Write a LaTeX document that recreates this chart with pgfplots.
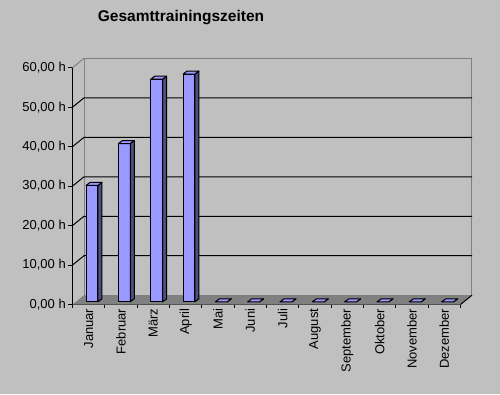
\documentclass[border=0pt]{standalone}
\usepackage{pgfplots}
\usepackage{pgfplotstable}
\pgfplotsset{compat=1.18}
\usepackage{fontspec}
\setmainfont{Liberation Sans}
\definecolor{bg}{HTML}{C0C0C0}
\definecolor{floorc}{HTML}{808080}
\definecolor{barf}{HTML}{9999FF}
\definecolor{bars}{HTML}{4D4D80}
\definecolor{wallc}{HTML}{808080}
\pgfdeclareplotmark{none3d}{}
\pgfplotstableread{
x v
0 29.5
1 40.1
2 56.4
3 57.7
4 0
5 0
6 0
7 0
8 0
9 0
10 0
11 0
}\datatable
\begin{document}
\begin{tikzpicture}
\path[use as bounding box, fill=bg] (0,0) rectangle (500pt,394pt);
\node[font=\fontsize{15.5}{18}\selectfont\bfseries] at (181pt,376pt) {Gesamttrainingszeiten};
\begin{axis}[
  at={(72.5pt,89.5pt)}, anchor=south west,
  x=32.33pt, y=3.947pt,
  xmin=-0.5, xmax=11.5, ymin=0, ymax=60,
  clip=false,
  axis x line=bottom, axis y line=left,
  axis line style={-, black, line width=1pt},
  tick align=outside,
  major tick length=4pt, minor tick length=3pt,
  ytick={0,10,...,60},
  yticklabels={{0,00 h},{10,00 h},{20,00 h},{30,00 h},{40,00 h},{50,00 h},{60,00 h}},
  xtick={0,...,11},
  xticklabels={Januar,Februar,März,April,Mai,Juni,Juli,August,September,Oktober,November,Dezember},
  minor xtick={-0.5,0.5,...,11.5},
  major x tick style={draw=none},
  every tick/.style={black, line width=1pt},
  ticklabel style={font=\fontsize{13}{15}\selectfont},
  xticklabel style={rotate=90, anchor=east, inner sep=0pt, yshift=0pt},
  yticklabel style={inner sep=0pt, xshift=-2.5pt},
]
% floor
\fill[floorc] (axis cs:-0.5,0) -- (axis cs:11.5,0) -- ++(11.5pt,9.3pt) -- ([shift={(11.5pt,9.3pt)}]axis cs:-0.5,0) -- cycle;
\draw[black, line width=1pt] (axis cs:11.5,0) -- ++(11.5pt,9.3pt);
% walls
\draw[wallc, line width=1pt] ([shift={(11.5pt,9.3pt)}]axis cs:-0.5,0) -- ([shift={(11.5pt,9.3pt)}]axis cs:-0.5,60) -- ([shift={(11.5pt,9.3pt)}]axis cs:11.5,60) -- ([shift={(11.5pt,9.3pt)}]axis cs:11.5,0);
\draw[wallc, line width=1pt] (axis cs:-0.5,60) -- ++(11.5pt,9.3pt);
% gridlines
\pgfplotsinvokeforeach{10,20,30,40,50}{
  \draw[black, line width=1pt] (axis cs:-0.5,#1) -- ++(11.5pt,9.3pt) -- ++(388pt,0pt);
}
\addplot[scatter, only marks, mark=none3d,
  visualization depends on={\thisrow{v} \as \yv},
  scatter/@pre marker code/.code={%
    \pgfmathsetmacro\hh{\yv*3.947}%
    \pgfmathsetmacro\fb{2.7-\hh}%
    \pgfmathsetmacro\sb{5.7-\hh}%
    \filldraw[fill=barf, draw=black, line width=1pt, line join=round] (-2.5pt,\fb pt) rectangle (9.3pt,2.7pt);
    \filldraw[fill=bars, draw=black, line width=1pt, line join=round] (9.3pt,2.7pt) -- (13.3pt,5.7pt) -- (13.3pt,\sb pt) -- (9.3pt,\fb pt) -- cycle;
    \filldraw[fill=barf, draw=black, line width=1pt, line join=round] (-2.5pt,2.7pt) -- (9.3pt,2.7pt) -- (13.3pt,5.7pt) -- (1.5pt,5.7pt) -- cycle;
  },
  scatter/@post marker code/.code={},
] table[x=x, y=v] {\datatable};
\end{axis}
\end{tikzpicture}
\end{document}
